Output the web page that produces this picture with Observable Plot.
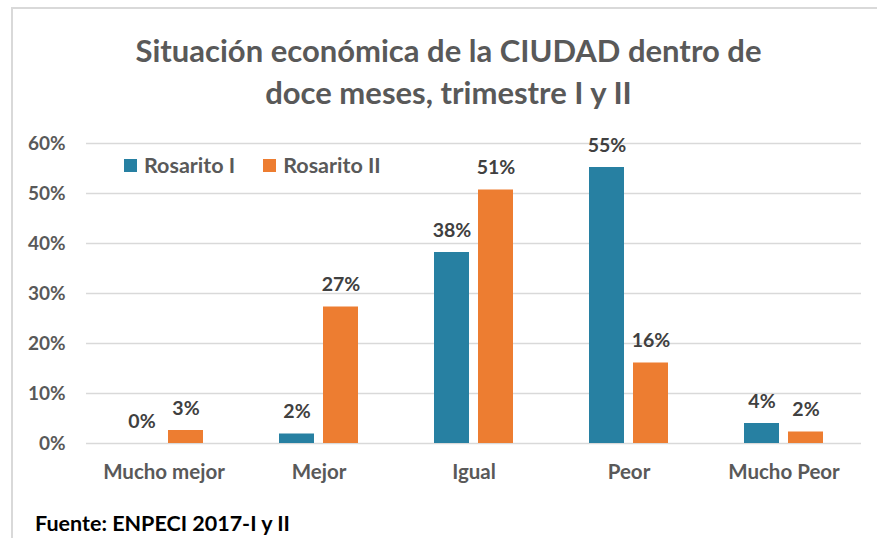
<!DOCTYPE html>
<html>
<head>
<meta charset="utf-8">
<script src="https://cdn.jsdelivr.net/npm/d3@7"></script>
<script src="https://cdn.jsdelivr.net/npm/@observablehq/plot@0.6"></script>
<style>
  html, body { margin: 0; padding: 0; background: #fff; }
  #root { position: relative; width: 877px; height: 538px; overflow: hidden; font-family: Lato, "Open Sans", sans-serif; }
  #frame { position: absolute; left: 11px; top: 7px; width: 900px; height: 600px; border-top: 2px solid #d9d9d9; border-left: 2px solid #d9d9d9; }
  #title { position: absolute; left: 0; top: 29px; width: 897px; text-align: center; font-size: 31px; line-height: 42px; color: #595959; font-weight: 700; }
  #legend { position: absolute; left: 124px; top: 152px; font-size: 21.5px; color: #595959; font-weight: 700; display: flex; align-items: center; }
  #legend .sw { display: inline-block; width: 13px; height: 13px; margin-right: 7px; }
  #legend .item { display: flex; align-items: center; margin-right: 28px; }
  #caption { position: absolute; left: 35px; top: 510px; font-size: 21.5px; font-weight: 700; color: #000; }
  #chart { position: absolute; left: 0; top: 120px; }
</style>
</head>
<body>
<div id="root">
  <div id="frame"></div>
  <div id="title">Situación económica de la CIUDAD dentro de<br>doce meses, trimestre I y II</div>
  <div id="chart"></div>
  <div id="legend"></div>
  <div id="caption">Fuente: ENPECI 2017-I y II</div>
</div>
<script>
const categories = ["Mucho mejor", "Mejor", "Igual", "Peor", "Mucho Peor"];
const seriesNames = ["Rosarito I", "Rosarito II"];
const rosaritoI = [0, 1.9, 38.2, 55.2, 4.0];
const rosaritoII = [2.6, 27.3, 50.7, 16.1, 2.3];
const colors = ["#2780a2", "#ed7d31"];
const yTicks = [0, 0.1, 0.2, 0.3, 0.4, 0.5, 0.6];

const data = [];
categories.forEach((c, i) => {
  data.push({cat: c, series: seriesNames[0], value: rosaritoI[i] / 100});
  data.push({cat: c, series: seriesNames[1], value: rosaritoII[i] / 100});
});

const chart = Plot.plot({
  width: 877,
  height: 370,
  marginLeft: 86,
  marginRight: 16,
  marginTop: 23,
  marginBottom: 47,
  style: {fontFamily: "Lato, 'Open Sans', sans-serif", fontSize: "19px", fontWeight: 700, color: "#595959", background: "transparent"},
  fx: {domain: categories, padding: 0, label: null},
  x: {domain: seriesNames, paddingInner: 0.2, paddingOuter: 0.86, axis: null},
  y: {domain: [0, 0.6], label: null},
  color: {domain: seriesNames, range: colors},
  marks: [
    Plot.ruleY(yTicks, {stroke: "#d9d9d9", strokeWidth: 1.5}),
    Plot.axisY(yTicks, {tickSize: 0, tickPadding: 21, tickFormat: d3.format(".0%"), fill: "#595959", fontSize: 19, fontWeight: 700, label: null}),
    Plot.axisFx({anchor: "bottom", tickSize: 0, tickPadding: 21, fill: "#595959", fontSize: 20.5, fontWeight: 700, label: null}),
    Plot.barY(data, {fx: "cat", x: "series", y: "value", fill: "series"}),
    Plot.text(data, {fx: "cat", x: "series", y: "value", text: d => Math.round(d.value * 100) + "%", dy: -22, fill: "#404040", fontSize: 19.5, fontWeight: 700})
  ]
});
document.getElementById("chart").appendChild(chart);

const legend = document.getElementById("legend");
seriesNames.forEach((s, i) => {
  const item = document.createElement("div");
  item.className = "item";
  const sw = document.createElement("span");
  sw.className = "sw";
  sw.style.background = colors[i];
  item.appendChild(sw);
  item.appendChild(document.createTextNode(s));
  legend.appendChild(item);
});
</script>
</body>
</html>
